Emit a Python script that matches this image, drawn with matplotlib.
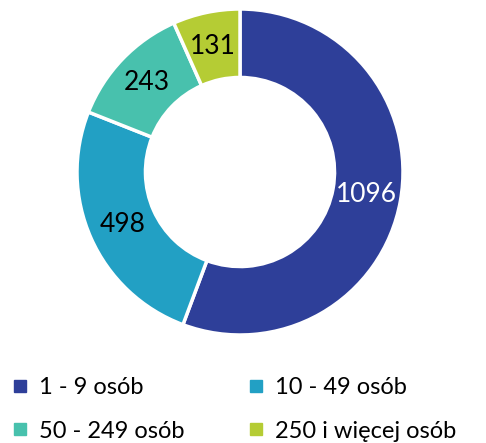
import matplotlib
matplotlib.use("Agg")
import matplotlib.pyplot as plt
from matplotlib.lines import Line2D

# dane
categories = ["1 - 9 osób", "10 - 49 osób", "50 - 249 osób", "250 i więcej osób"]
values = [1096, 498, 243, 131]
colors = ["#2E3F99", "#22A0C4", "#48C1AD", "#B5CC34"]
label_colors = ["white", "black", "black", "black"]

plt.rcParams['font.family'] = ['Lato', 'DejaVu Sans']

fig = plt.figure(figsize=(4.86, 4.43), dpi=100)
cx, cy, r = 240, 172, 163
ax = fig.add_axes([(cx - r) / 486, (443 - cy - r) / 443, 2 * r / 486, 2 * r / 443])

total = sum(values)
wedges, _, autotexts = ax.pie(values, colors=colors, startangle=90, counterclock=False,
                              radius=1, wedgeprops=dict(width=0.42, edgecolor="white", linewidth=2.5),
                              autopct=lambda p: f"{round(p * total / 100)}", pctdistance=0.79)
for t, c in zip(autotexts, label_colors):
    t.set_color(c)
    t.set_fontsize(19)

ax.set_xlim(-1, 1)
ax.set_ylim(-1, 1)
ax.set_aspect("equal")
ax.axis("off")

# legenda wierszami: kolejnosc dla ncol=2
order = [0, 2, 1, 3]
handles = [Line2D([], [], marker="s", linestyle="", markersize=8, color=colors[i]) for i in order]
fig.legend(handles, [categories[i] for i in order], loc="lower left",
           bbox_to_anchor=(-0.025, -0.045), ncol=2, frameon=False, fontsize=17,
           handletextpad=0.35, columnspacing=2.6, labelspacing=0.95, handlelength=0.9)

fig.savefig("out.png", dpi=100)
